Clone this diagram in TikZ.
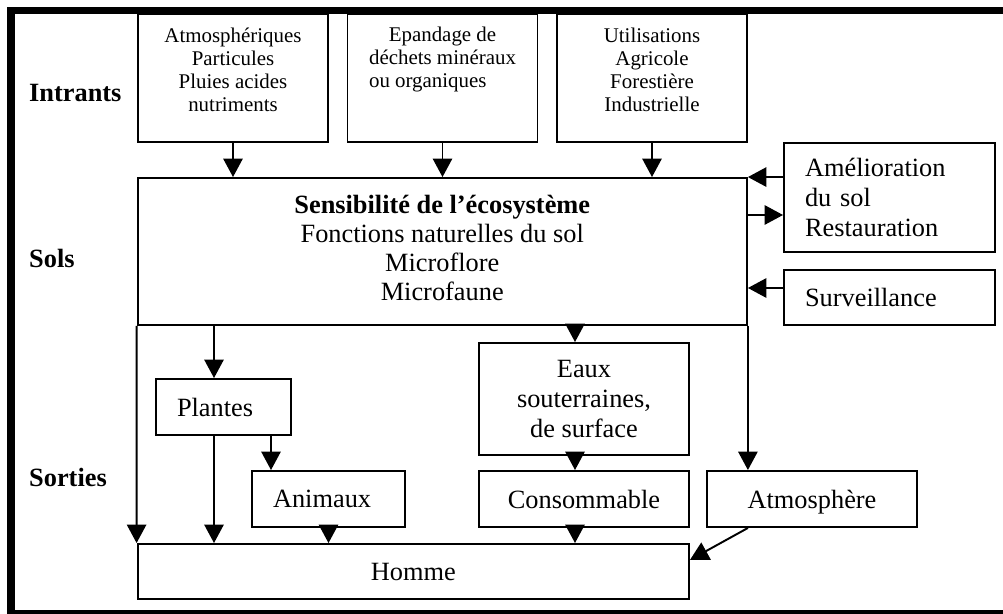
\documentclass[tikz,border=0pt]{standalone}
\usepackage{fontspec}
\setmainfont{Liberation Serif}
\usetikzlibrary{arrows.meta}

\begin{document}
\begin{tikzpicture}[x=0.02cm,y=-0.02cm,
  box/.style={draw,line width=1.1pt,inner sep=0pt,align=center,font=\fontsize{15}{17}\selectfont},
  topbox/.style={box,minimum width=3.8cm,minimum height=2.56cm,font=\fontsize{11.9}{13.1}\selectfont,text depth=9.7pt},
  lbox/.style={box,align=left,inner xsep=0.42cm},
  lbl/.style={anchor=west,font=\bfseries\fontsize{15}{17}\selectfont},
  arr/.style={line width=1.1pt,-{Triangle[length=10.5pt,width=11pt]}}]
\useasboundingbox (0,0) rectangle (1003,614);
%Frame
\fill (7,7) rectangle (1003,14);
\fill (7,7) rectangle (15,614);
\fill (7,610) rectangle (1003,614);
%Nodes
\path
 (233,78) node[topbox] (atm) {Atmosphériques\\Particules\\Pluies acides\\nutriments}
 (442.5,78) node[topbox,text depth=23.8pt] (epa) {Epandage de\\déchets minéraux\\\makebox[0pt][l]{ou organiques}\phantom{déchets minéraux}}
 (652,78) node[topbox] (uti) {Utilisations\\Agricole\\Forestière\\Industrielle}
 (442.25,251.5) node[box,minimum width=12.19cm,minimum height=2.94cm,font=\fontsize{15}{16.5}\selectfont,text depth=4pt] (sens) {\textbf{Sensibilité de l’écosystème}\\Fonctions naturelles du sol\\Microflore\\Microfaune}
 (889.5,197.5) node[lbox,text width=3.38cm,minimum height=2.18cm] (amel) {Amélioration\\du sol\\Restauration}
 (889.5,297.5) node[lbox,text width=3.38cm,minimum height=1.1cm] (surv) {Surveillance}
 (223.5,407) node[lbox,text width=1.86cm,minimum height=1.12cm] (plan) {Plantes}
 (328.5,499) node[lbox,text width=2.22cm,minimum height=1.12cm] (anim) {Animaux}
 (584,399) node[box,minimum width=4.2cm,minimum height=2.24cm] (eaux) {Eaux\\souterraines,\\de surface}
 (584,499) node[box,minimum width=4.2cm,minimum height=1.12cm] (cons) {Consommable}
 (812,499) node[box,minimum width=4.2cm,minimum height=1.12cm,text depth=0pt] (atmo) {Atmosphère}
 (413.25,571.5) node[box,minimum width=11.03cm,minimum height=1.1cm] (homme) {Homme}
 (23,93) node[lbl] (intr) {Intrants}
 (23,258) node[lbl] (sols) {Sols}
 (23,477) node[lbl] (sort) {Sorties}
 ;
%Edges
\coordinate (xp) at (214,0);
\coordinate (xa) at (271,0);
\coordinate (xe) at (575,0);
\coordinate (ya) at (0,215);
\coordinate (ys) at (0,288);
\draw[arr] (atm.south) -- (atm.south |- sens.north);
\draw[arr] (epa.south) -- (epa.south |- sens.north);
\draw[arr] (uti.south) -- (uti.south |- sens.north);
\draw[arr] (amel.west |- sens.north east) -- (sens.north east);
\draw[arr] (sens.east |- ya) -- (amel.west |- ya);
\draw[arr] (surv.west |- ys) -- (sens.east |- ys);
\draw[arr] (sens.south west) -- (homme.north west);
\draw[arr] (sens.south -| xp) -- (plan.north -| xp);
\draw[arr] (sens.south -| xe) -- (eaux.north -| xe);
\draw[arr] (sens.south east) -- (sens.south east |- atmo.north);
\draw[arr] (plan.south -| xa) -- (anim.north -| xa);
\draw[arr] (plan.south -| xp) -- (homme.north -| xp);
\draw[arr] (anim.south) -- (anim.south |- homme.north);
\draw[arr] (eaux.south -| xe) -- (cons.north -| xe);
\draw[arr] (cons.south -| xe) -- (homme.north -| xe);
\draw[arr] (sens.south east |- atmo.south) -- ([yshift=0.23cm]homme.east);
\end{tikzpicture}
\end{document}
